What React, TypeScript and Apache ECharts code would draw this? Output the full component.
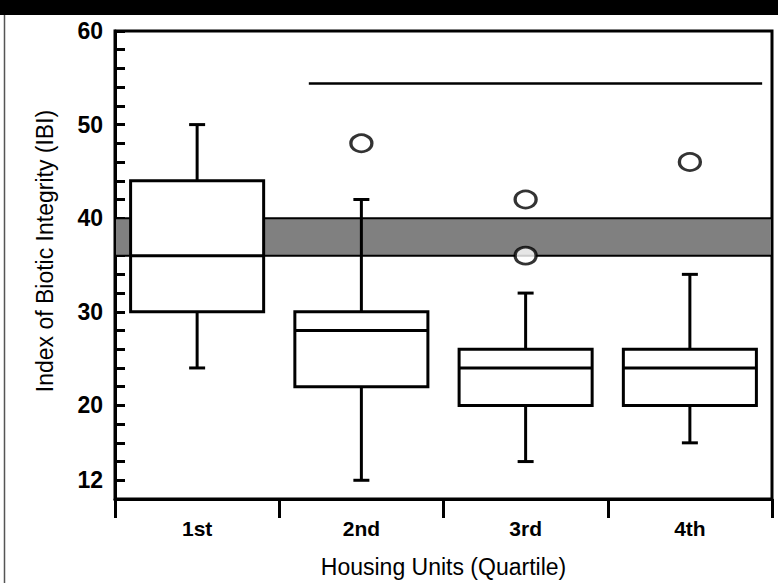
import React, { useEffect, useRef } from "react";
import * as echarts from "echarts";

const categories = ["1st", "2nd", "3rd", "4th"];
const whiskerLow = [24, 12, 14, 16];
const quartile1 = [30, 22, 20, 20];
const medians = [36, 28, 24, 24];
const quartile3 = [44, 30, 26, 26];
const whiskerHigh = [50, 42, 32, 34];
const outlierCategories = ["2nd", "3rd", "3rd", "4th"];
const outlierValues = [48, 42, 36, 46];
const bandRange = [36, 40];
const refLineValue = 54.4;
const refLineSpan = [1.18, 3.94];
const yTickLabels = [60, 50, 40, 30, 20, 12];

export default function App() {
  const ref = useRef<HTMLDivElement>(null);
  useEffect(() => {
    if (!ref.current) return;
    const chart = echarts.init(ref.current, null, { renderer: "svg" });
    const boxData = categories.map((c, i) => [
      i,
      whiskerLow[i],
      quartile1[i],
      medians[i],
      quartile3[i],
      whiskerHigh[i],
    ]);
    const font = "'Liberation Sans', Arial, Helvetica, sans-serif";
    chart.setOption({
      animation: false,
      backgroundColor: "#fff",
      grid: {
        left: 115,
        right: 6,
        top: 31,
        bottom: 79,
        show: true,
        borderColor: "#000",
        borderWidth: 3,
        backgroundColor: "transparent",
      },
      graphic: [
        { type: "rect", shape: { x: 0, y: 0, width: 778, height: 15 }, style: { fill: "#000" } },
        { type: "line", shape: { x1: 4.5, y1: 15, x2: 4.5, y2: 583 }, style: { stroke: "#555", lineWidth: 1.5 } },
        {
          type: "text",
          x: 45,
          y: 251,
          rotation: Math.PI / 2,
          style: {
            text: "Index of Biotic Integrity (IBI)",
            fontSize: 23,
            fontFamily: font,
            fill: "#000",
            textAlign: "center",
            textVerticalAlign: "middle",
          },
        },
      ],
      xAxis: [
        {
          type: "category",
          data: categories,
          boundaryGap: true,
          axisLine: { lineStyle: { color: "#000", width: 3 } },
          axisTick: { show: true, length: 19, lineStyle: { color: "#000", width: 3 } },
          axisLabel: { color: "#000", fontSize: 21, fontWeight: "bold", fontFamily: font, margin: 19 },
          name: "Housing Units (Quartile)",
          nameLocation: "middle",
          nameGap: 56,
          nameTextStyle: { color: "#000", fontSize: 23, fontFamily: font },
          splitLine: { show: false },
        },
        { type: "value", min: 0, max: 4, show: false },
      ],
      yAxis: {
        type: "value",
        min: 10,
        max: 60,
        interval: 2,
        axisLine: { show: true, lineStyle: { color: "#000", width: 3 } },
        axisTick: { show: true, inside: true, length: 10, lineStyle: { color: "#000", width: 3 } },
        axisLabel: {
          color: "#000",
          fontSize: 23,
          fontWeight: "bold",
          fontFamily: font,
          margin: 12,
          formatter: (v: number) => (yTickLabels.includes(v) ? String(v) : ""),
        },
        splitLine: { show: false },
      },
      series: [
        {
          type: "line",
          xAxisIndex: 1,
          z: 1,
          data: refLineSpan.map((x) => [x, refLineValue]),
          symbol: "none",
          lineStyle: { color: "#000", width: 2.5 },
          silent: true,
          markArea: {
            silent: true,
            itemStyle: { color: "#808080", borderColor: "#000", borderWidth: 2 },
            data: [[{ yAxis: bandRange[0] }, { yAxis: bandRange[1] }]],
          },
        },
        {
          type: "custom",
          z: 2,
          data: boxData,
          encode: { x: 0, y: [1, 2, 3, 4, 5] },
          renderItem: (params: any, api: any) => {
            const idx = api.value(0);
            const pLow = api.coord([idx, api.value(1)]);
            const pQ1 = api.coord([idx, api.value(2)]);
            const pMed = api.coord([idx, api.value(3)]);
            const pQ3 = api.coord([idx, api.value(4)]);
            const pHigh = api.coord([idx, api.value(5)]);
            const x = pQ1[0];
            const halfW = api.size([1, 0])[0] * 0.405;
            const cap = 8;
            const ls = { stroke: "#000", lineWidth: 3, fill: "none" };
            return {
              type: "group",
              children: [
                { type: "line", shape: { x1: x, y1: pHigh[1], x2: x, y2: pQ3[1] }, style: ls },
                { type: "line", shape: { x1: x - cap, y1: pHigh[1], x2: x + cap, y2: pHigh[1] }, style: ls },
                { type: "line", shape: { x1: x, y1: pLow[1], x2: x, y2: pQ1[1] }, style: ls },
                { type: "line", shape: { x1: x - cap, y1: pLow[1], x2: x + cap, y2: pLow[1] }, style: ls },
                {
                  type: "rect",
                  shape: { x: x - halfW, y: pQ3[1], width: halfW * 2, height: pQ1[1] - pQ3[1] },
                  style: { fill: "#fff", stroke: "#000", lineWidth: 3 },
                },
                { type: "line", shape: { x1: x - halfW, y1: pMed[1], x2: x + halfW, y2: pMed[1] }, style: ls },
              ],
            };
          },
        },
        {
          type: "scatter",
          z: 3,
          data: outlierCategories.map((c, i) => [c, outlierValues[i]]),
          symbol: "circle",
          symbolSize: [21, 17],
          itemStyle: { color: "#fff", borderColor: "#000", borderWidth: 3 },
        },
      ],
    });
    return () => chart.dispose();
  }, []);
  return (
    <div
      ref={ref}
      style={{ position: "fixed", left: 0, top: 0, width: 778, height: 583, background: "#fff" }}
    />
  );
}
